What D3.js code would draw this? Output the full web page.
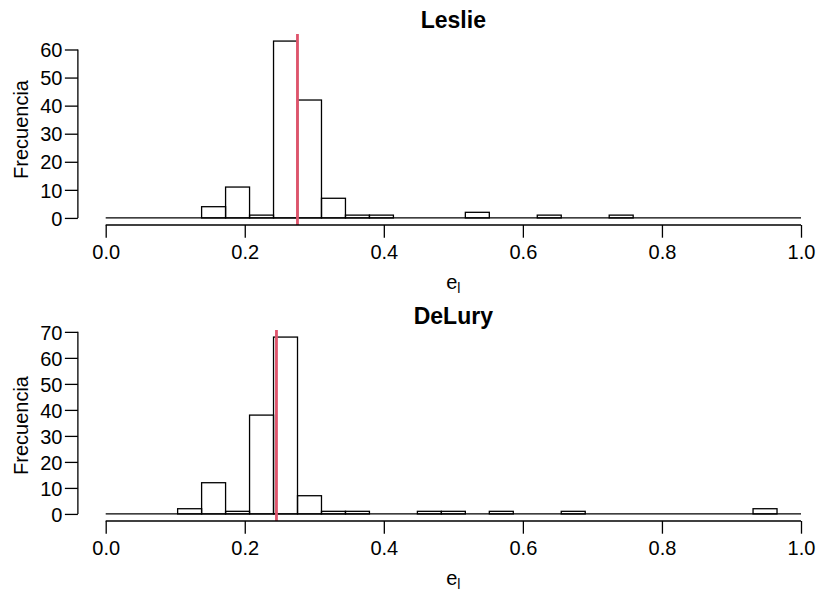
<!DOCTYPE html>
<html>
<head>
<meta charset="utf-8">
<script src="https://cdn.jsdelivr.net/npm/d3@7"></script>
<style>
  html, body { margin: 0; padding: 0; background: #fff; }
  svg { display: block; font-family: "Liberation Sans", Arial, Helvetica, sans-serif; }
</style>
</head>
<body>
<svg id="chart" width="819" height="590"></svg>
<script>
// Histogram bins: 29 equal bins from 0 to 1
const nBins = 29;
const breaks = d3.range(nBins + 1).map(i => i / nBins);
const xTicks = [0.0, 0.2, 0.4, 0.6, 0.8, 1.0];

const panelTitles = ["Leslie", "DeLury"];
const leslieCounts = [0,0,0,0,4,11,1,63,42,7,1,1,0,0,0,2,0,0,1,0,0,1,0,0,0,0,0,0,0];
const deluryCounts = [0,0,0,2,12,1,38,68,7,1,1,0,0,1,1,0,1,0,0,1,0,0,0,0,0,0,0,2,0];
const leslieYTicks = [0,10,20,30,40,50,60];
const deluryYTicks = [0,10,20,30,40,50,60,70];
const meanLines = [0.2758, 0.2456];

const panels = [
  { title: panelTitles[0], counts: leslieCounts, yTicks: leslieYTicks, mean: meanLines[0], top: 0 },
  { title: panelTitles[1], counts: deluryCounts, yTicks: deluryYTicks, mean: meanLines[1], top: 296 }
];

const svg = d3.select("#chart");
const baseFont = 20;

const x = d3.scaleLinear().domain([0, 1]).range([105.7, 801]);
const xLeft = x(-0.04);

panels.forEach(p => {
  const regTop = p.top + 34, regBot = p.top + 225;
  const maxC = d3.max(p.counts);
  const ext = maxC * 0.04;
  const y = d3.scaleLinear().domain([-ext, maxC + ext]).range([regBot, regTop]);
  const g = svg.append("g");

  const bins = p.counts.map((c, i) => ({ x0: breaks[i], x1: breaks[i + 1], c }));

  // zero-height bins appear as a baseline
  g.append("line")
    .attr("x1", x(breaks[0])).attr("x2", x(breaks[nBins]))
    .attr("y1", y(0)).attr("y2", y(0))
    .attr("stroke", "#000").attr("stroke-width", 1.3);

  g.selectAll("rect.bar").data(bins.filter(d => d.c > 0)).enter().append("rect")
    .attr("class", "bar")
    .attr("x", d => x(d.x0))
    .attr("width", d => x(d.x1) - x(d.x0))
    .attr("y", d => y(d.c))
    .attr("height", d => y(0) - y(d.c))
    .attr("fill", "none")
    .attr("stroke", "#000")
    .attr("stroke-width", 1.3);

  // mean line (clipped to plot region)
  g.append("line")
    .attr("x1", x(p.mean)).attr("x2", x(p.mean))
    .attr("y1", regTop).attr("y2", regBot)
    .attr("stroke", "#DF536B").attr("stroke-width", 2.8);

  // x axis
  const xAxis = d3.axisBottom(x).tickValues(xTicks).tickFormat(d3.format(".1f")).tickSize(12.7).tickPadding(5);
  const gx = g.append("g").attr("transform", `translate(0,${regBot})`).call(xAxis);
  gx.select(".domain").attr("d", `M${x(0)},0H${x(1)}`).attr("stroke-width", 1.3);
  gx.selectAll(".tick line").attr("stroke-width", 1.3);
  gx.selectAll(".tick text")
    .attr("font-size", baseFont).attr("fill", "#000")
    .attr("font-family", '"Liberation Sans", Arial, sans-serif')
    .attr("dy", null).attr("y", 34.3);

  // y axis
  const yAxis = d3.axisLeft(y).tickValues(p.yTicks).tickFormat(d3.format("d")).tickSize(13).tickPadding(2);
  const gy = g.append("g").attr("transform", `translate(${xLeft},0)`).call(yAxis);
  const yMaxTick = d3.max(p.yTicks);
  gy.select(".domain").attr("d", `M0,${y(0)}V${y(yMaxTick)}`).attr("stroke-width", 1.3);
  gy.selectAll(".tick line").attr("stroke-width", 1.3);
  gy.selectAll(".tick text")
    .attr("font-size", baseFont).attr("fill", "#000")
    .attr("font-family", '"Liberation Sans", Arial, sans-serif')
    .attr("x", -15.5).attr("dy", "0.36em");

  // title
  g.append("text")
    .attr("x", x(0.5)).attr("y", p.top + 28.3)
    .attr("text-anchor", "middle")
    .attr("font-size", 23).attr("font-weight", "bold")
    .text(p.title);

  // x label e_l
  const xl = g.append("text")
    .attr("x", x(0.5)).attr("y", regBot + 63.5)
    .attr("text-anchor", "middle")
    .attr("font-size", baseFont);
  xl.append("tspan").text("e");
  xl.append("tspan").attr("font-size", 14).attr("dy", 4).text("l");

  // y label
  g.append("text")
    .attr("transform", `translate(28,${(regTop + regBot) / 2}) rotate(-90)`)
    .attr("text-anchor", "middle")
    .attr("font-size", baseFont)
    .text("Frecuencia");
});
</script>
</body>
</html>
